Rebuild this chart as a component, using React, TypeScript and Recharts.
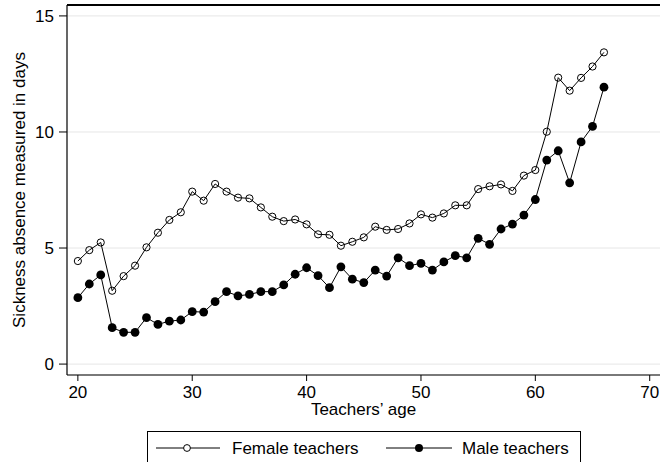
import React from 'react';
import { LineChart, Line, XAxis, YAxis, CartesianGrid, Legend, Label } from 'recharts';

const ages = [
  20, 21, 22, 23, 24, 25, 26, 27, 28, 29, 30, 31, 32, 33, 34, 35, 36, 37, 38, 39, 40, 41, 42, 43,
  44, 45, 46, 47, 48, 49, 50, 51, 52, 53, 54, 55, 56, 57, 58, 59, 60, 61, 62, 63, 64, 65, 66,
];

const female = [
  4.44, 4.91, 5.24, 3.16, 3.79, 4.24, 5.03, 5.66, 6.21, 6.54, 7.43, 7.04, 7.76, 7.43, 7.17, 7.14,
  6.75, 6.35, 6.16, 6.23, 6.02, 5.59, 5.57, 5.1, 5.27, 5.46, 5.92, 5.78, 5.82, 6.06, 6.45, 6.31,
  6.49, 6.84, 6.84, 7.54, 7.66, 7.74, 7.46, 8.12, 8.36, 10.01, 12.34, 11.78, 12.33, 12.82, 13.43,
];

const male = [
  2.86, 3.45, 3.84, 1.57, 1.37, 1.37, 2.0, 1.71, 1.85, 1.9, 2.26, 2.24, 2.69, 3.12, 2.94, 3.0,
  3.12, 3.12, 3.41, 3.87, 4.15, 3.81, 3.29, 4.19, 3.66, 3.51, 4.05, 3.79, 4.58, 4.24, 4.34, 4.05,
  4.4, 4.67, 4.58, 5.42, 5.16, 5.82, 6.03, 6.42, 7.09, 8.79, 9.19, 7.81, 9.57, 10.24, 11.93,
];

const xTicks = [20, 30, 40, 50, 60, 70];
const yTicks = [0, 5, 10, 15];

const X_DOMAIN = [19.05, 70.9];
const Y_DOMAIN = [-0.47, 15.47];

const data = ages.map((age, i) => ({ age, female: female[i], male: male[i] }));

const FONT = '"Liberation Sans", Arial, Helvetica, sans-serif';
const tickStyle = { fill: '#000', fontSize: 17, fontFamily: FONT };

const MARGIN_TOP = 5;
const Y_AXIS_W = 67;

const LegendBox = () => (
  <div
    style={{
      width: 434,
      height: 34,
      border: '1px solid #000',
      boxSizing: 'border-box',
      background: '#fff',
    }}
  >
    <svg width={432} height={32} style={{ display: 'block' }}>
      <line x1={8} x2={72} y1={16} y2={16} stroke="#000" strokeWidth={1} />
      <circle cx={39} cy={16} r={3.4} fill="#fff" stroke="#000" strokeWidth={1} />
      <text x={84} y={22} fontSize={17} fontFamily={FONT} fill="#000">
        Female teachers
      </text>
      <line x1={238} x2={304} y1={16} y2={16} stroke="#000" strokeWidth={1} />
      <circle cx={271} cy={16} r={4} fill="#000" />
      <text x={314} y={22} fontSize={17} fontFamily={FONT} fill="#000">
        Male teachers
      </text>
    </svg>
  </div>
);

const YTitle = ({ viewBox }: any) => {
  const cx = 25;
  const cy = viewBox.y + viewBox.height / 2;
  return (
    <text
      x={cx}
      y={cy}
      transform={`rotate(-90 ${cx} ${cy})`}
      textAnchor="middle"
      fontSize={17}
      fontFamily={FONT}
      fill="#000"
    >
      Sickness absence measured in days
    </text>
  );
};

const App: React.FC = () => {
  return (
    <div style={{ position: 'absolute', left: 0, top: 0, width: 660, height: 462, background: '#fff' }}>
      <LineChart width={660} height={462} data={data} margin={{ top: MARGIN_TOP, right: 0, left: 0, bottom: 0 }}>
        <CartesianGrid vertical={false} stroke="#e6e6e6" strokeWidth={1} />
        <XAxis
          dataKey="age"
          type="number"
          domain={X_DOMAIN}
          ticks={xTicks}
          allowDataOverflow
          height={53}
          tickSize={6}
          tickMargin={5}
          tick={tickStyle}
          axisLine={{ stroke: '#000', strokeWidth: 1.2 }}
          tickLine={{ stroke: '#000' }}
        >
          <Label
            content={({ viewBox }: any) => (
              <text
                x={viewBox.x + viewBox.width / 2}
                y={viewBox.y + 40}
                textAnchor="middle"
                fontSize={17}
                fontFamily={FONT}
                fill="#000"
              >
                Teachers’ age
              </text>
            )}
          />
        </XAxis>
        <YAxis
          type="number"
          domain={Y_DOMAIN}
          ticks={yTicks}
          allowDataOverflow
          width={Y_AXIS_W}
          tickSize={8}
          tickMargin={5}
          tick={tickStyle}
          axisLine={{ stroke: '#000', strokeWidth: 1.2 }}
          tickLine={{ stroke: '#000' }}
        >
          <Label content={YTitle} />
        </YAxis>
        <Legend
          verticalAlign="bottom"
          align="left"
          content={() => <LegendBox />}
          wrapperStyle={{ top: 431, left: 147, bottom: 'auto', width: 434, height: 34 }}
        />
        <Line
          dataKey="female"
          name="Female teachers"
          stroke="#000"
          strokeWidth={1}
          dot={{ r: 3.6, fill: 'none', stroke: '#000', strokeWidth: 1 }}
          isAnimationActive={false}
        />
        <Line
          dataKey="male"
          name="Male teachers"
          stroke="#000"
          strokeWidth={1}
          dot={{ r: 4.4, fill: '#000', stroke: '#000', strokeWidth: 0 }}
          isAnimationActive={false}
        />
      </LineChart>
      {/* top edge of the plot frame */}
      <div
        style={{
          position: 'absolute',
          left: Y_AXIS_W - 0.5,
          top: MARGIN_TOP - 1,
          width: 660 - Y_AXIS_W,
          height: 2,
          background: '#000',
          zIndex: 5,
          pointerEvents: 'none',
        }}
      />
    </div>
  );
};

export default App;
